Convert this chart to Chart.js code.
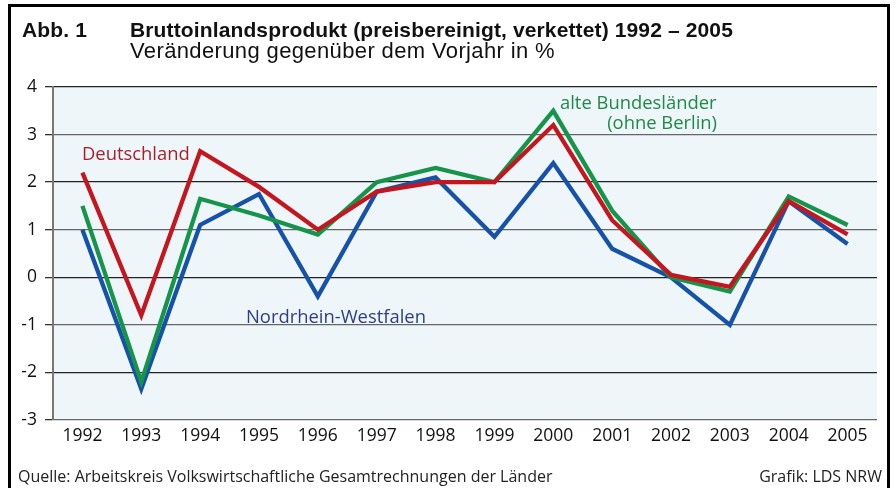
<!DOCTYPE html>
<html>
<head>
<meta charset="utf-8">
<script src="https://cdn.jsdelivr.net/npm/chart.js@4/dist/chart.umd.min.js"></script>
<style>
  html, body { margin:0; padding:0; background:#fff; }
  #wrap { position:relative; width:896px; height:488px; overflow:hidden; }
  #frame { position:absolute; left:8px; top:4px; width:876px; height:520px; border:3px solid #000; border-bottom:none; }
  canvas { position:absolute; left:0; top:0; }
  .t { position:absolute; white-space:nowrap; }
  .title { font-family:"Liberation Sans Narrow", "Liberation Sans", sans-serif; font-weight:bold; font-size:21px; line-height:24px; color:#111; letter-spacing:0.13px; }
  .sub { font-family:"Liberation Sans Narrow", "Liberation Sans", sans-serif; font-size:22px; line-height:24px; color:#111; letter-spacing:0.37px; }
  .lab { font-family:"Open Sans", sans-serif; font-size:18.4px; line-height:20px; }
  .foot { font-family:"Open Sans", sans-serif; font-size:16px; line-height:18px; color:#222; }
</style>
</head>
<body>
<div id="wrap">
  <div id="frame"></div>
  <canvas id="c" width="896" height="488"></canvas>
  <div class="t title" style="left:22px; top:18px;">Abb. 1</div>
  <div class="t title" style="left:130px; top:18px;">Bruttoinlandsprodukt (preisbereinigt, verkettet) 1992 – 2005</div>
  <div class="t sub" style="left:130px; top:39px;">Veränderung gegenüber dem Vorjahr in %</div>
  <div class="t lab" style="left:82px; top:143px; color:#a5222d;">Deutschland</div>
  <div class="t lab" style="left:560px; top:92px; color:#1d8a45;">alte Bundesländer</div>
  <div class="t lab" style="right:179px; top:112px; color:#1d8a45;">(ohne Berlin)</div>
  <div class="t lab" style="left:246px; top:306px; color:#2c3f88;">Nordrhein-Westfalen</div>
  <div class="t foot" style="left:18px; top:467px;">Quelle: Arbeitskreis Volkswirtschaftliche Gesamtrechnungen der Länder</div>
  <div class="t foot" style="right:14px; top:467px;">Grafik: LDS NRW</div>
</div>
<script>
const years = ["1992","1993","1994","1995","1996","1997","1998","1999","2000","2001","2002","2003","2004","2005"];
const deutschland = [2.2, -0.8, 2.65, 1.9, 1.0, 1.8, 2.0, 2.0, 3.2, 1.2, 0.05, -0.2, 1.6, 0.9];
const alteLaender = [1.5, -2.2, 1.65, 1.3, 0.9, 2.0, 2.3, 2.0, 3.5, 1.4, 0.0, -0.3, 1.7, 1.1];
const nrw = [1.0, -2.35, 1.1, 1.75, -0.4, 1.8, 2.1, 0.85, 2.4, 0.6, 0.0, -1.0, 1.6, 0.7];
const yTicks = [-3, -2, -1, 0, 1, 2, 3, 4];

const bgPlugin = {
  id: 'bg',
  beforeDraw(chart) {
    const a = chart.chartArea, ctx = chart.ctx;
    ctx.save();
    ctx.fillStyle = '#eef6fa';
    ctx.fillRect(a.left, a.top, a.right - a.left, a.bottom - a.top);
    ctx.restore();
  }
};

new Chart(document.getElementById('c'), {
  type: 'line',
  data: {
    labels: years,
    datasets: [
      { label: 'Deutschland', data: deutschland, borderColor: '#c4161f', order: 0 },
      { label: 'alte Bundesländer (ohne Berlin)', data: alteLaender, borderColor: '#16954a', order: 1 },
      { label: 'Nordrhein-Westfalen', data: nrw, borderColor: '#1652a8', order: 2 }
    ]
  },
  options: {
    responsive: false,
    animation: false,
    devicePixelRatio: 1,
    layout: { padding: { left: 0, top: 87, right: 19, bottom: 0 } },
    elements: {
      line: { borderWidth: 4.3, tension: 0, borderJoinStyle: 'miter', fill: false },
      point: { radius: 0, hoverRadius: 0 }
    },
    plugins: { legend: { display: false }, tooltip: { enabled: false }, title: { display: false } },
    scales: {
      x: {
        type: 'category',
        offset: true,
        grid: { display: false, drawTicks: false },
        border: { display: false },
        ticks: { color: '#111', font: { family: 'Open Sans', size: 17.5 }, padding: 6, maxRotation: 0, autoSkip: false },
        afterFit(s) { s.height = 68; }
      },
      y: {
        min: -3, max: 4,
        afterBuildTicks(s) { s.ticks = yTicks.map(v => ({ value: v })); },
        grid: {
          color: ctx => (ctx.tick && ctx.tick.value % 2 === 0) ? '#222' : '#666',
          tickColor: '#333',
          lineWidth: 1.3,
          tickLength: 8,
          drawTicks: true
        },
        border: { display: true, color: '#777', width: 2 },
        ticks: { color: '#111', font: { family: 'Open Sans', size: 17.5 }, padding: 8, stepSize: 1 },
        afterFit(s) { s.width = 53; }
      }
    }
  },
  plugins: [bgPlugin]
});
</script>
</body>
</html>
